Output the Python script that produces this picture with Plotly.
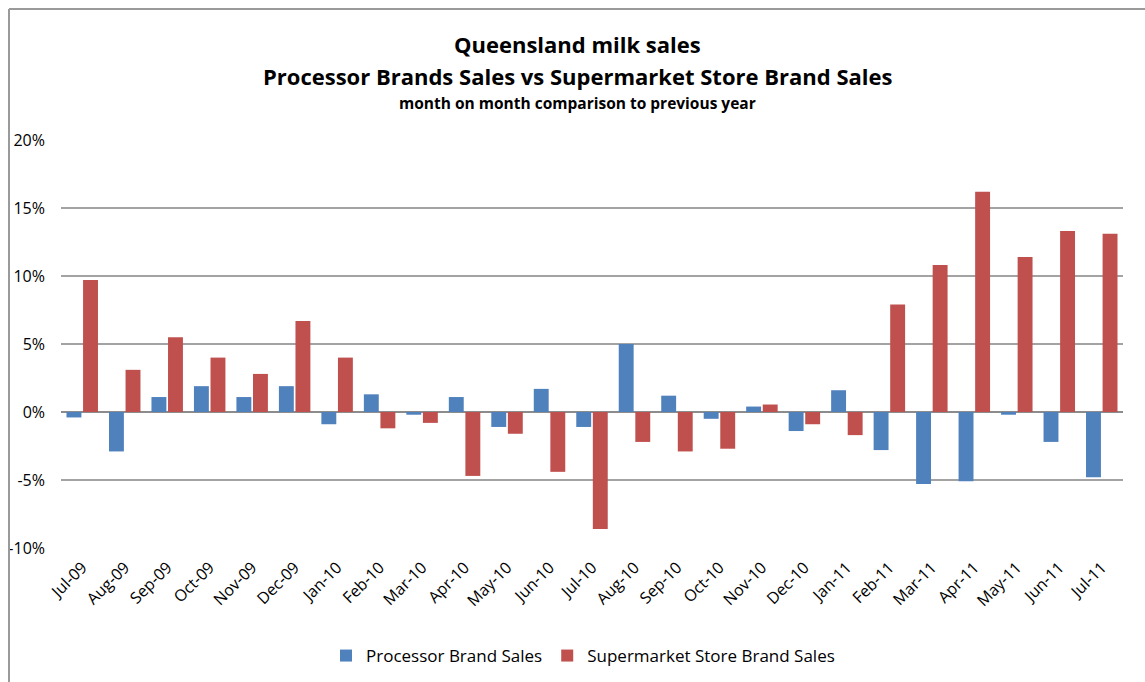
import plotly.graph_objects as go

# Monthly year-on-year change (%) in Queensland milk sales
months = ["Jul-09", "Aug-09", "Sep-09", "Oct-09", "Nov-09", "Dec-09", "Jan-10",
          "Feb-10", "Mar-10", "Apr-10", "May-10", "Jun-10", "Jul-10", "Aug-10",
          "Sep-10", "Oct-10", "Nov-10", "Dec-10", "Jan-11", "Feb-11", "Mar-11",
          "Apr-11", "May-11", "Jun-11", "Jul-11"]

processor_brand = [-0.4, -2.9, 1.1, 1.9, 1.1, 1.9, -0.9,
                   1.3, -0.2, 1.1, -1.1, 1.7, -1.1, 5.0,
                   1.2, -0.5, 0.4, -1.4, 1.6, -2.8, -5.3,
                   -5.1, -0.2, -2.2, -4.8]

supermarket_brand = [9.7, 3.1, 5.5, 4.0, 2.8, 6.7, 4.0,
                     -1.2, -0.8, -4.7, -1.6, -4.4, -8.6, -2.2,
                     -2.9, -2.7, 0.55, -0.9, -1.7, 7.9, 10.8,
                     16.2, 11.4, 13.3, 13.1]

y_tick_values = [-10, -5, 0, 5, 10, 15, 20]
y_tick_labels = ["-10%", "-5%", "0%", "5%", "10%", "15%", "20%"]

FONT = "'Open Sans', sans-serif"
GRID = "#a3a3a3"
W, H = 1145, 682

fig = go.Figure()
fig.add_trace(go.Bar(name="Processor Brand Sales", x=months, y=processor_brand,
                     marker=dict(color="#4F81BD", line=dict(width=0))))
fig.add_trace(go.Bar(name="Supermarket Store Brand Sales", x=months, y=supermarket_brand,
                     marker=dict(color="#C0504D", line=dict(width=0))))

# plot area spans pixels x 61..1123, y 140..548
top_px, bot_px = 140, 548
def py(p):
    return (bot_px - p) / (bot_px - top_px)
def px(p):
    return (p - 61) / (1123 - 61)

titles = [
    ("<b>Queensland milk sales</b>", 44, 22),
    ("<b>Processor Brands Sales vs Supermarket Store Brand Sales</b>", 76, 22),
    ("<b>month on month comparison to previous year</b>", 103, 15.5),
]
annotations = [dict(text=t, x=px(577), y=py(yp), xref="paper", yref="paper",
                    xanchor="center", yanchor="middle", showarrow=False,
                    font=dict(family=FONT, size=s, color="#000000"))
               for t, yp, s in titles]

shapes = [
    dict(type="line", xref="paper", yref="paper", x0=px(9), x1=px(1150),
         y0=py(9), y1=py(9), line=dict(color="#9a9a9a", width=2)),
    dict(type="line", xref="paper", yref="paper", x0=px(9), x1=px(9),
         y0=py(9), y1=py(690), line=dict(color="#9a9a9a", width=2)),
]

fig.update_layout(
    width=W, height=H,
    margin=dict(l=61, r=22, t=top_px, b=H - bot_px, pad=0, autoexpand=False),
    paper_bgcolor="white", plot_bgcolor="white",
    barmode="group", bargap=0.22, bargroupgap=0.1,
    font=dict(family=FONT, size=16, color="#000000"),
    showlegend=True,
    legend=dict(orientation="h", xref="container", yref="container",
                x=583 / W, xanchor="center", y=(H - 656) / H, yanchor="middle",
                font=dict(family=FONT, size=17, color="#000000"),
                itemsizing="constant", traceorder="normal"),
    annotations=annotations,
    shapes=shapes,
)
fig.update_xaxes(tickangle=-45, showgrid=False, showline=False, ticks="",
                 tickfont=dict(family=FONT, size=16), ticklabelstandoff=6,
                 automargin=False)
fig.update_yaxes(range=[-10, 20], tickvals=y_tick_values, ticktext=y_tick_labels,
                 showgrid=True, gridcolor=GRID, gridwidth=1.5,
                 zeroline=True, zerolinecolor="#8c8c8c", zerolinewidth=2,
                 showline=False, ticks="", ticklabelstandoff=15,
                 tickfont=dict(family=FONT, size=16), automargin=False)

fig.write_html("out.html")
